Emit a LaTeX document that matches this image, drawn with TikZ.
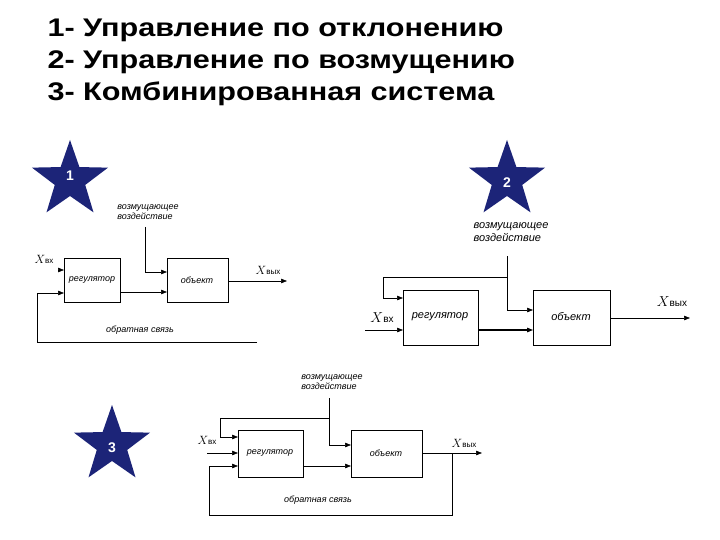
\documentclass[tikz,border=0pt]{standalone}
\usepackage{fontspec}
\setmainfont{Liberation Sans}
\newfontfamily\ttlfont[FakeStretch=1.2]{Liberation Sans}
\usetikzlibrary{shapes.geometric,arrows.meta}
\definecolor{starblue}{HTML}{1C2478}
\begin{document}
\begin{tikzpicture}[x=1pt,y=-1pt,
  blk/.style={draw,line width=0.6pt,anchor=north west,inner sep=0pt},
  lbl/.style={font=\fontsize{9}{10}\selectfont\itshape,align=left},
  lblb/.style={font=\fontsize{11}{12.5}\selectfont\itshape,align=left},
  ln/.style={line width=0.6pt},
  ar/.style={line width=0.6pt,-{Triangle[length=6pt,width=4.5pt]}},
  st/.style={star,star points=5,star point ratio=2.5,fill=starblue,minimum size=80pt,inner sep=0pt},
  num/.style={white,font=\bfseries\fontsize{14}{14}\selectfont},
  ttl/.style={anchor=base west,font=\ttlfont\bfseries\fontsize{25.5}{28}\selectfont}]
\useasboundingbox (0,0) rectangle (720,540);
\node[ttl] (t1) at (44,37) {1- Управление по отклонению};
\node[ttl] (t2) at (44,69) {2- Управление по возмущению};
\node[ttl] (t3) at (44,101) {3- Комбинированная система};
% diagram 1
\node[st] (s1) at (70,180) {};
\node[num] (n1) at (70,176) {1};
\node[blk,minimum width=56pt,minimum height=44pt] (r1) at (64,258) {};
\node[lbl] (r1t) at (92,280) {регулятор};
\node[blk,minimum width=61pt,minimum height=44pt] (o1) at (167,258) {};
\node[lbl] (o1t) at (197,280) {объект};
\node[lbl] (d1) at (148,212) {возмущающее\\воздействие};
\node[font=\fontsize{13}{13}\selectfont] (xi1) at (44,259) {$X$\fontsize{8}{8}\selectfont вх};
\node[font=\fontsize{13}{13}\selectfont] (xo1) at (268,270) {$X$\fontsize{8}{8}\selectfont вых};
\node[lbl] (f1) at (140,330) {обратная связь};
\coordinate (a1) at (145,227);
\draw[ar] (a1) |- (167,272);
\draw[ar] (58,270) -- (64,270);
\draw[ar] (120,292) -- (167,292);
\draw[ar] (228,281) -- (287,281);
\coordinate (fb1) at (257,342);
\draw[ar] (fb1) -- (37,342) |- (64,293);
% diagram 2
\node[st] (s2) at (507,180) {};
\node[num] (n2) at (507,183) {2};
\node[blk,minimum width=75pt,minimum height=55pt] (r2) at (403,290) {};
\node[lblb] (r2t) at (440,317) {регулятор};
\node[blk,minimum width=77pt,minimum height=55pt] (o2) at (533,290) {};
\node[lblb] (o2t) at (571,317) {объект};
\node[lblb] (d2) at (511,232) {возмущающее\\воздействие};
\node[font=\fontsize{15}{15}\selectfont] (xi2) at (382,318) {$X$\fontsize{10}{10}\selectfont вх};
\node[font=\fontsize{15}{15}\selectfont] (xo2) at (672,302) {$X$\fontsize{10}{10}\selectfont вых};
\coordinate (a2) at (507,256);
\coordinate (b2) at (507,277);
\draw[ar] (a2) |- (533,310);
\draw[ar] (b2) -- (383,277) |- (403,298);
\draw[ar] (365,330) -- (403,330);
\draw[ar,line width=1.2pt] (478,330) -- (533,330);
\draw[ar] (610,318) -- (690,318);
% diagram 3
\node[st] (s3) at (112,445) {};
\node[num] (n3) at (112,448) {3};
\node[blk,minimum width=65pt,minimum height=47pt] (r3) at (238,430) {};
\node[lbl] (r3t) at (270,453) {регулятор};
\node[blk,minimum width=71pt,minimum height=47pt] (o3) at (351,430) {};
\node[lbl] (o3t) at (386,453) {объект};
\node[lbl] (d3) at (332,382) {возмущающее\\воздействие};
\node[font=\fontsize{13}{13}\selectfont] (xi3) at (207,440) {$X$\fontsize{8}{8}\selectfont вх};
\node[font=\fontsize{13}{13}\selectfont] (xo3) at (464,443) {$X$\fontsize{8}{8}\selectfont вых};
\node[lbl] (f3) at (318,500) {обратная связь};
\coordinate (a3) at (329,398);
\coordinate (b3) at (329,418);
\draw[ar] (a3) |- (351,445);
\draw[ar] (b3) -- (220,418) |- (238,437);
\draw[ar] (207,453) -- (238,453);
\draw[ar] (303,466) -- (351,466);
\draw[ar] (422,453) -- (482,453);
\coordinate (c3) at (452,453);
\draw[ar] (c3) |- (209,515) |- (238,466);
\end{tikzpicture}
\end{document}
